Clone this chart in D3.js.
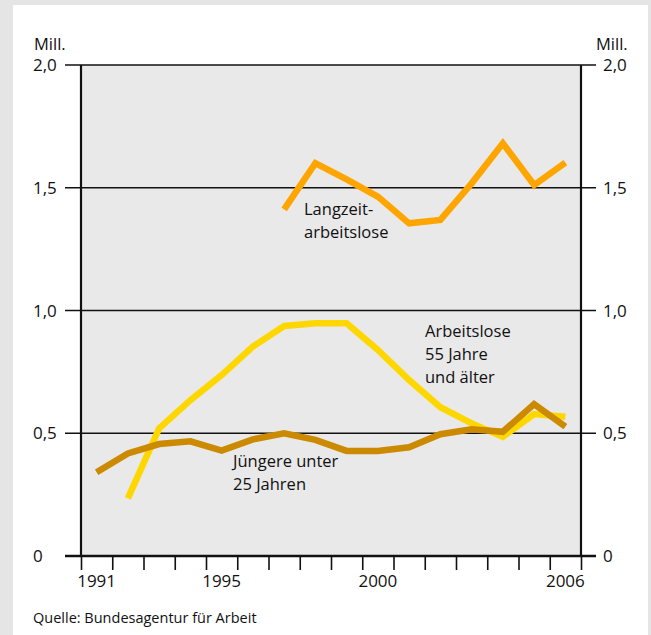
<!DOCTYPE html>
<html><head><meta charset="utf-8">
<script src="https://cdn.jsdelivr.net/npm/d3@7"></script>
<style>
html,body{margin:0;padding:0;background:#e5e5e5;}
svg{display:block;}
text{font-family:"Open Sans","Noto Sans",sans-serif;fill:#111;}
</style></head>
<body>
<script>
const years = d3.range(1991, 2007);
const youngYears = years;
const youngValues = [0.341,0.418,0.456,0.467,0.429,0.475,0.500,0.473,0.428,0.428,0.443,0.496,0.516,0.506,0.619,0.527];
const olderYears = d3.range(1992, 2007);
const olderValues = [0.235,0.520,0.635,0.737,0.853,0.937,0.948,0.948,0.839,0.717,0.606,0.540,0.486,0.578,0.567];
const longYears = d3.range(1997, 2007);
const longValues = [1.412,1.600,1.534,1.464,1.355,1.369,1.518,1.681,1.511,1.602];
const yTicks = [0, 0.5, 1.0, 1.5, 2.0];
const yTickLabels = ["0", "0,5", "1,0", "1,5", "2,0"];
const xLabelYears = [1991, 1995, 2000, 2006];
const unitLabel = "Mill.";
const sourceText = "Quelle: Bundesagentur für Arbeit";
const seriesLabels = {
  long: ["Langzeit-", "arbeitslose"],
  older: ["Arbeitslose", "55 Jahre", "und älter"],
  young: ["Jüngere unter", "25 Jahren"]
};

const W = 651, H = 635;
const L = 81, R = 581, T = 65, B = 556;
const svg = d3.select("body").append("svg").attr("width", W).attr("height", H);

svg.append("rect").attr("x", 0).attr("y", 0).attr("width", W).attr("height", H).attr("fill", "#e5e5e5");
svg.append("rect").attr("x", 13).attr("y", 5).attr("width", 635).attr("height", H - 5).attr("fill", "#ffffff");

const x = d3.scaleLinear().domain([1991, 2007]).range([L, R]);
const y = d3.scaleLinear().domain([0, 2]).range([B, T]);

svg.append("rect").attr("x", L).attr("y", T).attr("width", R - L).attr("height", B - T).attr("fill", "#e9e9e9");

// gridlines (extending outside as ticks)
const grid = svg.append("g");
grid.selectAll("line").data(yTicks).join("line")
  .attr("x1", 65).attr("x2", 596)
  .attr("y1", d => y(d)).attr("y2", d => y(d))
  .attr("stroke", "#111").attr("stroke-width", d => d === 0 ? 2.5 : 1.6);

// frame verticals
svg.append("line").attr("x1", L).attr("x2", L).attr("y1", T).attr("y2", B).attr("stroke", "#111").attr("stroke-width", 2.2);
svg.append("line").attr("x1", R).attr("x2", R).attr("y1", T).attr("y2", B).attr("stroke", "#111").attr("stroke-width", 2.2);

// x axis ticks
const xAxis = d3.axisBottom(x).tickValues(d3.range(1991, 2008)).tickFormat("").tickSize(14).tickSizeOuter(0);
const gx = svg.append("g").attr("transform", `translate(0,${B})`).call(xAxis);
gx.select(".domain").remove();
gx.selectAll(".tick line").attr("stroke", "#111").attr("stroke-width", 1.6);

svg.append("g").selectAll("text").data(xLabelYears).join("text")
  .attr("x", d => x(d + 0.5)).attr("y", 587)
  .attr("text-anchor", "middle").attr("font-size", 17).text(d => d);

// y labels
svg.append("g").selectAll("text").data(yTicks).join("text")
  .attr("x", 33).attr("y", d => y(d)).attr("dy", "0.36em")
  .attr("font-size", 17).text((d, i) => yTickLabels[i]);
svg.append("g").selectAll("text").data(yTicks).join("text")
  .attr("x", 603).attr("y", d => y(d)).attr("dy", "0.36em")
  .attr("font-size", 17).text((d, i) => yTickLabels[i]);
svg.append("text").attr("x", 34).attr("y", 50).attr("font-size", 16.5).text(unitLabel);
svg.append("text").attr("x", 596).attr("y", 50).attr("font-size", 16.5).text(unitLabel);

// lines
const line = d3.line().x(d => x(d[0] + 0.5)).y(d => y(d[1]));
function draw(yrs, vals, color) {
  svg.append("path").datum(yrs.map((yr, i) => [yr, vals[i]]))
    .attr("d", line).attr("fill", "none").attr("stroke", color)
    .attr("stroke-width", 6.5).attr("stroke-linejoin", "miter").attr("stroke-linecap", "butt");
}
draw(olderYears, olderValues, "#ffd700");
draw(youngYears, youngValues, "#cc8a00");
draw(longYears, longValues, "#ffa500");

// series labels
function label(lines, lx, ly, step) {
  const t = svg.append("text").attr("x", lx).attr("y", ly).attr("font-size", 16.5);
  lines.forEach((s, i) => t.append("tspan").attr("x", lx).attr("y", ly + i * step).text(s));
}
label(seriesLabels.long, 304, 215, 22.5);
label(seriesLabels.older, 425, 337, 23);
label(seriesLabels.young, 233, 467, 23);

svg.append("text").attr("x", 33).attr("y", 623).attr("font-size", 14.5).text(sourceText);
</script>
</body></html>
